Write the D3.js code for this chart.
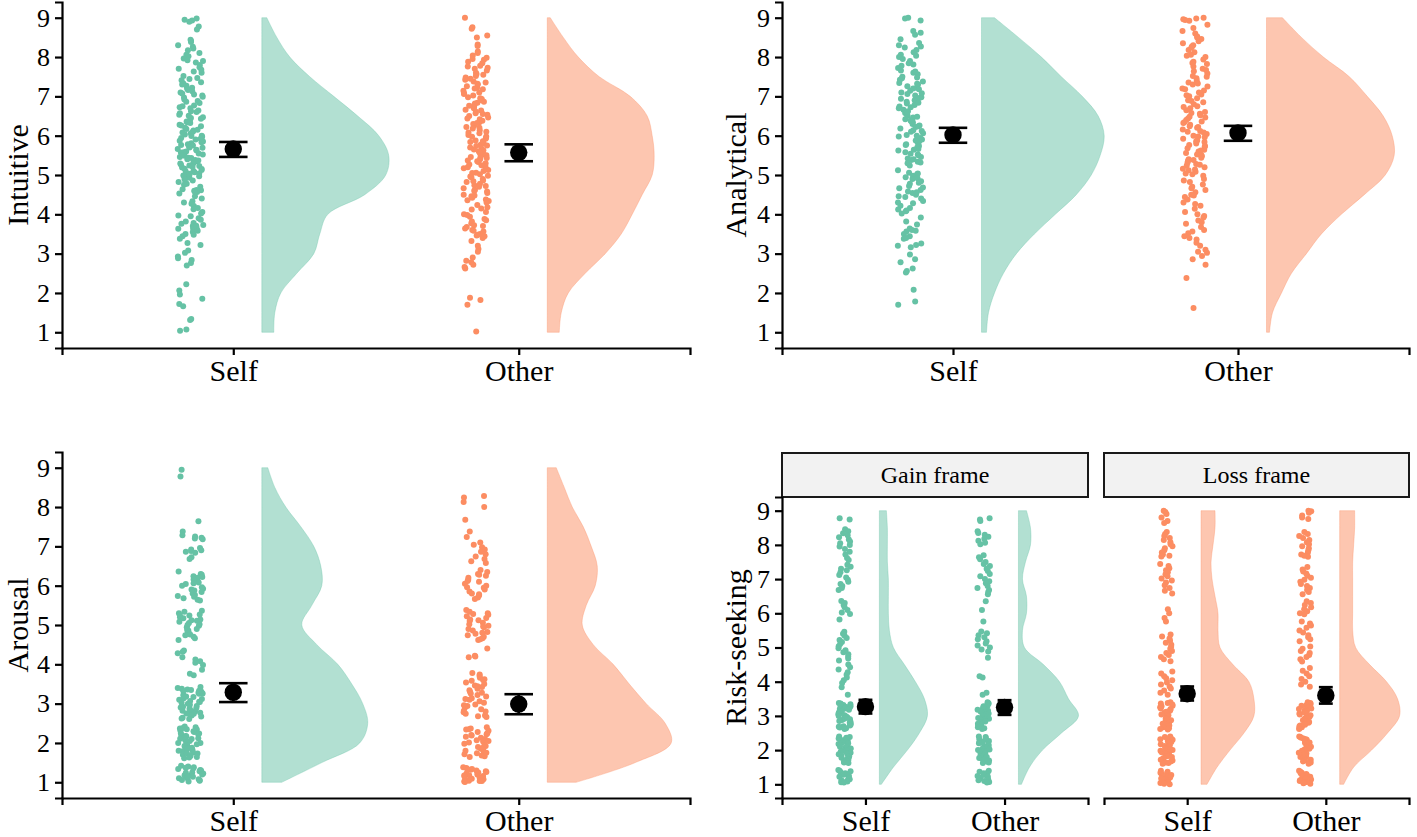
<!DOCTYPE html>
<html><head><meta charset="utf-8">
<script src="https://cdn.jsdelivr.net/npm/d3@7"></script>
<style>body{margin:0;background:#fff}svg{display:block}text{font-family:"Liberation Serif","Times New Roman",serif;fill:#000}</style>
</head><body>
<svg id="c" width="1417" height="837"></svg>
<script>
// ---------- data ----------
const groups = ["Self", "Other"];
const yTicks = [1, 2, 3, 4, 5, 6, 7, 8, 9];
const frames = ["Gain frame", "Loss frame"];
const densLevels = [1,1.5,2,2.5,3,3.5,4,4.5,5,5.5,6,6.5,7,7.5,8,8.5,9];

// Intuitive
const intuSelf = [8.98,8.93,8.9,8.95,8.78,8.7,8.44,8.41,8.38,8.3,8.26,8.22,8.17,8.1,8.06,8.02,7.96,7.9,7.86,7.8,7.74,7.7,7.63,7.6,7.52,7.47,7.41,7.36,7.3,7.27,7.22,7.2,7.16,7.13,7.1,7.05,7.02,6.97,6.92,6.88,6.83,6.77,6.72,6.7,6.64,6.6,6.57,6.51,6.47,6.43,6.4,6.36,6.32,6.28,6.24,6.2,6.17,6.13,6.1,6.06,6.03,6.0,5.97,5.94,5.9,5.87,5.85,5.81,5.78,5.75,5.72,5.7,5.66,5.63,5.6,5.58,5.55,5.52,5.49,5.46,5.43,5.4,5.38,5.35,5.32,5.3,5.27,5.24,5.21,5.19,5.16,5.13,5.1,5.07,5.04,5.01,4.97,4.93,4.9,4.86,4.82,4.78,4.7,4.64,4.61,4.6,4.57,4.53,4.46,4.4,4.33,4.27,4.21,4.13,4.06,4.02,3.97,3.9,3.86,3.82,3.76,3.73,3.7,3.67,3.64,3.6,3.55,3.5,3.44,3.38,3.27,3.22,3.08,3.02,2.93,2.88,2.84,2.76,2.7,2.22,2.06,1.96,1.85,1.72,1.66,1.34,1.31,1.07,1.04,
  7.92,7.68,7.44,7.33,7.07,6.99,6.86,6.75,6.62,6.53,6.45,6.34,6.26,6.15,6.08,5.99,5.92,5.83,5.76,5.69,5.64,5.57,5.51,5.44,5.37,5.29,5.23,5.15,5.09,5.03,4.99,4.88,4.75,4.62,4.58,4.3,4.16,3.95,3.78,3.71,3.63,3.58,3.48];
const intuOther = [9.0,8.76,8.72,8.55,8.5,8.32,8.28,8.14,8.1,8.04,7.98,7.93,7.88,7.84,7.78,7.73,7.7,7.66,7.6,7.57,7.52,7.48,7.42,7.38,7.35,7.3,7.26,7.22,7.18,7.14,7.1,7.06,7.02,6.98,6.93,6.9,6.86,6.82,6.78,6.74,6.7,6.66,6.61,6.57,6.53,6.5,6.46,6.42,6.38,6.34,6.3,6.26,6.22,6.18,6.14,6.1,6.06,6.02,5.98,5.95,5.92,5.88,5.84,5.8,5.77,5.74,5.7,5.67,5.63,5.6,5.56,5.53,5.5,5.46,5.43,5.4,5.37,5.33,5.3,5.27,5.23,5.2,5.17,5.13,5.1,5.06,5.02,4.98,4.94,4.9,4.86,4.82,4.78,4.74,4.7,4.66,4.62,4.58,4.54,4.5,4.46,4.42,4.38,4.34,4.3,4.24,4.18,4.12,4.06,4.0,3.94,3.88,3.82,3.77,3.72,3.68,3.64,3.6,3.56,3.5,3.46,3.4,3.32,3.2,3.12,3.05,2.9,2.82,2.78,2.72,2.66,2.62,1.88,1.82,1.7,1.02,
  7.95,7.76,7.55,7.45,7.32,7.2,7.08,6.95,6.84,6.76,6.64,6.55,6.44,6.32,6.2,6.08,5.97,5.86,5.75,5.65,5.55,5.45,5.35,5.25,5.15,5.05,4.96,4.84,4.72,4.6,4.48,4.36,4.15,3.98,3.85,3.7,3.58,3.48,3.44];
const intuSelfD  = [12,13,19,35,52,58,66,103,124,127,117,96,72,48,28,15,5];
const intuOtherD = [12,14,21,38,58,74,85,95,105,107,105,100,83,52,31,16,3];
const intuMean = [5.66, 5.57], intuLo = [5.46, 5.35], intuHi = [5.84, 5.78];

// Analytical
const analySelf = [9.0,8.98,8.93,8.66,8.62,8.57,8.45,8.36,8.3,8.24,8.18,8.12,8.06,8.0,7.95,7.9,7.84,7.78,7.72,7.66,7.6,7.56,7.5,7.46,7.42,7.38,7.34,7.3,7.26,7.22,7.18,7.14,7.1,7.06,7.02,6.98,6.94,6.9,6.86,6.82,6.78,6.74,6.7,6.66,6.62,6.58,6.54,6.5,6.46,6.42,6.38,6.34,6.3,6.26,6.22,6.18,6.14,6.1,6.06,6.02,5.98,5.94,5.9,5.86,5.82,5.78,5.74,5.7,5.66,5.62,5.58,5.54,5.5,5.46,5.42,5.38,5.34,5.3,5.24,5.12,5.06,5.02,4.98,4.94,4.9,4.84,4.78,4.72,4.66,4.62,4.58,4.54,4.5,4.46,4.4,4.34,4.28,4.22,4.16,4.12,4.08,4.02,3.92,3.82,3.74,3.64,3.6,3.56,3.5,3.44,3.38,3.26,3.2,3.16,2.98,2.86,2.78,2.62,2.56,2.52,2.08,1.78,1.7,
  8.27,8.03,7.81,7.63,7.48,7.32,7.2,7.08,6.96,6.84,6.72,6.6,6.48,6.36,6.24,6.12,6.0,5.88,5.76,5.64,5.52,5.4,5.32,5.04,4.92,4.8,4.68,4.56,4.44,4.3,4.1,3.58,3.4,3.22];
const analyOther = [9.0,8.98,8.96,8.94,8.92,8.82,8.74,8.66,8.6,8.52,8.46,8.4,8.35,8.3,8.24,8.18,8.12,8.06,8.0,7.94,7.88,7.82,7.76,7.7,7.64,7.58,7.52,7.46,7.4,7.35,7.3,7.25,7.2,7.15,7.1,7.05,7.0,6.95,6.9,6.85,6.8,6.75,6.7,6.65,6.6,6.56,6.52,6.48,6.44,6.4,6.36,6.32,6.28,6.24,6.2,6.16,6.12,6.08,6.04,6.0,5.96,5.92,5.88,5.84,5.8,5.76,5.72,5.68,5.64,5.6,5.56,5.52,5.48,5.44,5.4,5.36,5.32,5.28,5.24,5.2,5.16,5.12,5.08,5.04,4.98,4.9,4.82,4.76,4.7,4.62,4.56,4.5,4.44,4.38,4.3,4.22,4.14,4.06,4.0,3.92,3.84,3.76,3.68,3.6,3.52,3.44,3.36,3.28,3.2,3.1,3.02,2.94,2.86,2.72,2.38,1.62,
  8.5,8.27,8.03,7.85,7.67,7.5,7.33,7.18,7.03,6.88,6.73,6.58,6.46,6.34,6.22,6.1,5.98,5.86,5.74,5.62,5.5,5.38,5.26,5.14,5.02,4.86,4.66,4.48,4.26,3.96,3.8,3.56,3.4,3.05];
const analySelfD  = [5,7,13,22,35,53,74,95,110,119,123,117,101,80,60,37,13];
const analyOtherD = [3,6,15,25,40,55,75,98,119,128,126,117,101,83,57,35,16];
const analyMean = [6.02, 6.07], analyLo = [5.82, 5.87], analyHi = [6.2, 6.25];

// Arousal
const arouSelf = [8.95,8.78,7.64,7.38,7.28,7.25,7.22,7.2,7.18,6.96,6.92,6.9,6.88,6.86,6.84,6.72,6.68,6.36,6.3,6.28,6.24,6.2,6.16,6.12,6.08,6.04,6.0,5.96,5.92,5.88,5.84,5.8,5.76,5.72,5.68,5.64,5.62,5.36,5.34,5.3,5.27,5.24,5.2,5.17,5.14,5.11,5.08,5.05,5.02,4.98,4.94,4.9,4.86,4.82,4.78,4.74,4.7,4.66,4.62,4.35,4.32,4.28,4.18,4.12,4.08,4.04,3.98,3.86,3.76,3.72,3.42,3.4,3.38,3.36,3.35,3.32,3.3,3.28,3.26,3.25,3.22,3.2,3.17,3.14,3.12,3.1,3.07,3.04,3.02,3.0,2.97,2.94,2.92,2.9,2.87,2.84,2.82,2.8,2.77,2.74,2.72,2.7,2.67,2.64,2.61,2.42,2.4,2.38,2.37,2.34,2.31,2.3,2.28,2.25,2.22,2.2,2.18,2.17,2.14,2.11,2.1,2.08,2.05,2.02,2.0,1.97,1.94,1.92,1.91,1.88,1.85,1.82,1.8,1.79,1.76,1.73,1.7,1.67,1.64,1.61,1.42,1.4,1.38,1.37,1.34,1.31,1.3,1.28,1.25,1.22,1.2,1.18,1.17,1.14,1.11,1.1,1.08,1.06,1.04,1.02,
  6.22,6.06,5.9,5.74,5.25,5.12,5.0,4.88,4.76,3.33,3.18,3.05,2.88,2.75,2.62,2.35,2.24,2.12,2.0,1.86,1.74,1.63,1.35,1.24,1.15,1.05];
const arouOther = [8.28,8.24,8.13,8.0,7.68,7.38,7.24,7.1,7.04,6.98,6.92,6.86,6.8,6.74,6.68,6.62,6.58,6.4,6.35,6.3,6.25,6.2,6.15,6.1,6.05,6.0,5.95,5.9,5.85,5.8,5.75,5.7,5.66,5.38,5.34,5.3,5.26,5.22,5.18,5.14,5.1,5.06,5.02,4.98,4.94,4.9,4.86,4.82,4.78,4.74,4.7,4.66,4.62,4.4,4.22,4.2,4.18,3.78,3.74,3.7,3.66,3.62,3.58,3.54,3.5,3.46,3.42,3.38,3.34,3.3,3.26,3.22,3.18,3.14,3.1,3.06,3.02,2.98,2.94,2.9,2.86,2.82,2.78,2.74,2.7,2.68,2.66,2.4,2.37,2.34,2.31,2.28,2.25,2.22,2.19,2.16,2.13,2.1,2.07,2.04,2.01,1.98,1.95,1.92,1.89,1.86,1.83,1.8,1.77,1.74,1.71,1.68,1.66,1.64,1.38,1.36,1.34,1.32,1.3,1.28,1.26,1.24,1.22,1.2,1.18,1.16,1.14,1.12,1.1,1.08,1.06,1.05,1.04,1.03,1.02,1.01,
  6.28,6.12,5.96,5.78,5.28,5.12,4.96,4.8,4.64,3.6,3.44,3.28,3.12,2.96,2.8,2.35,2.2,2.05,1.9,1.75,1.33,1.25,1.17,1.09,1.03];
const arouSelfD  = [20,60,98,106,101,90,76,55,40,50,60,59,52,39,24,13,6];
const arouOtherD = [29,88,124,118,99,82,66,46,35,39,48,50,44,36,25,17,9];
const arouMean = [3.29, 2.99], arouLo = [3.04, 2.73], arouHi = [3.52, 3.24];

// Risk-seeking, gain frame
const gainSelf = [8.78,8.74,8.46,8.4,8.34,8.28,8.22,8.16,8.1,8.05,8.0,7.95,7.88,7.8,7.72,7.62,7.56,7.42,7.36,7.3,7.26,7.2,7.12,7.05,6.98,6.92,6.86,6.8,6.74,6.68,6.36,6.3,6.24,6.18,6.1,6.02,5.98,5.82,5.46,5.4,5.34,5.28,5.22,5.16,5.1,5.04,4.98,4.92,4.86,4.8,4.74,4.68,4.62,4.5,4.42,4.36,4.28,4.2,4.12,4.04,3.96,3.84,3.62,3.38,3.36,3.34,3.32,3.3,3.28,3.26,3.24,3.22,3.2,3.18,3.15,3.12,3.1,3.08,3.05,3.02,3.0,2.98,2.95,2.92,2.9,2.88,2.85,2.82,2.8,2.78,2.75,2.72,2.7,2.68,2.66,2.64,2.62,2.4,2.38,2.36,2.34,2.32,2.3,2.28,2.26,2.24,2.22,2.2,2.18,2.15,2.12,2.1,2.08,2.05,2.02,2.0,1.98,1.95,1.92,1.9,1.88,1.85,1.82,1.8,1.78,1.75,1.72,1.7,1.68,1.66,1.64,1.62,1.42,1.4,1.38,1.35,1.32,1.3,1.28,1.25,1.22,1.2,1.18,1.15,1.12,1.1,1.08,1.06,1.05];
const gainOther = [8.78,8.74,8.7,8.4,8.35,8.3,8.24,8.18,8.12,8.06,8.02,7.7,7.64,7.58,7.5,7.44,7.38,7.3,7.24,7.15,7.08,7.0,6.94,6.88,6.8,6.74,6.68,6.62,6.56,6.35,6.1,5.76,5.47,5.42,5.36,5.3,5.24,5.18,5.12,5.06,5.0,4.94,4.88,4.7,4.16,4.12,3.68,3.62,3.4,3.38,3.36,3.33,3.3,3.28,3.25,3.22,3.2,3.18,3.15,3.12,3.1,3.07,3.04,3.02,3.0,2.97,2.94,2.92,2.9,2.87,2.84,2.82,2.8,2.77,2.74,2.72,2.7,2.67,2.64,2.62,2.4,2.38,2.35,2.32,2.3,2.27,2.24,2.22,2.2,2.17,2.14,2.12,2.1,2.07,2.04,2.02,2.0,1.97,1.94,1.92,1.9,1.87,1.84,1.82,1.8,1.77,1.74,1.72,1.7,1.67,1.64,1.62,1.4,1.37,1.34,1.32,1.3,1.27,1.24,1.22,1.2,1.17,1.14,1.12,1.1,1.07,1.05];
const gainSelfD  = [2,14,28,40,48,45,36,25,14,10,9,9,9,8,8,8,7];
const gainOtherD = [3,11,24,43,60,50,41,25,6,4,8,8,4,7,12,12,8];
const gainMean = [3.27, 3.25], gainLo = [3.07, 3.03], gainHi = [3.47, 3.46];

// Risk-seeking, loss frame
const lossSelf = [9.0,8.96,8.9,8.8,8.7,8.64,8.38,8.32,8.26,8.2,8.14,8.08,8.02,7.96,7.9,7.84,7.78,7.72,7.68,7.66,7.44,7.38,7.32,7.26,7.2,7.14,7.08,7.02,6.96,6.9,6.82,6.74,6.66,6.58,6.12,6.0,5.86,5.76,5.38,5.32,5.26,5.2,5.14,5.08,5.02,4.96,4.9,4.84,4.78,4.72,4.66,4.6,4.3,4.24,4.16,4.1,4.04,3.98,3.92,3.86,3.8,3.74,3.68,3.62,3.4,3.38,3.36,3.33,3.3,3.28,3.25,3.22,3.2,3.18,3.15,3.12,3.1,3.07,3.04,3.02,3.0,2.97,2.94,2.92,2.9,2.87,2.84,2.82,2.8,2.77,2.74,2.72,2.7,2.67,2.64,2.62,2.6,2.4,2.38,2.36,2.34,2.32,2.3,2.27,2.24,2.22,2.2,2.17,2.14,2.12,2.1,2.07,2.04,2.02,2.0,1.98,1.96,1.94,1.92,1.9,1.87,1.84,1.82,1.8,1.77,1.74,1.72,1.7,1.67,1.64,1.62,1.6,1.4,1.37,1.34,1.32,1.3,1.27,1.24,1.22,1.2,1.17,1.14,1.12,1.1,1.07,1.05,1.04,1.02,1.0];
const lossOther = [9.0,8.98,8.94,8.86,8.8,8.76,8.38,8.32,8.26,8.2,8.14,8.08,8.02,7.96,7.9,7.84,7.78,7.72,7.68,7.65,7.35,7.28,7.22,7.16,7.1,7.04,6.98,6.92,6.86,6.8,6.74,6.68,6.62,6.56,6.35,6.3,6.24,6.18,6.12,6.06,6.0,5.97,5.76,5.7,5.64,5.58,5.5,5.44,5.36,5.3,5.24,5.18,5.03,4.96,4.9,4.84,4.78,4.72,4.66,4.59,4.4,4.32,4.24,4.16,4.08,4.0,3.92,3.85,3.4,3.38,3.35,3.32,3.3,3.27,3.24,3.22,3.2,3.17,3.14,3.12,3.1,3.07,3.04,3.02,3.0,2.97,2.94,2.92,2.9,2.87,2.84,2.82,2.8,2.77,2.74,2.72,2.7,2.67,2.64,2.62,2.4,2.38,2.36,2.34,2.32,2.3,2.27,2.24,2.22,2.2,2.17,2.14,2.12,2.1,2.07,2.04,2.02,2.0,1.98,1.96,1.94,1.92,1.9,1.87,1.84,1.82,1.8,1.77,1.74,1.72,1.7,1.67,1.64,1.62,1.6,1.4,1.37,1.34,1.32,1.3,1.27,1.24,1.22,1.2,1.17,1.14,1.12,1.1,1.07,1.05,1.03,1.02];
const lossSelfD  = [6,16,29,43,53,53,48,32,19,17,17,14,11,10,12,14,14];
const lossOtherD = [4,14,32,48,60,58,47,30,16,13,13,13,13,13,14,15,15];
const lossMean = [3.65, 3.6], lossLo = [3.45, 3.36], lossHi = [3.86, 3.84];

// ---------- drawing ----------
const teal = "#66c2a5", orange = "#fc8d62";
const FONT = '"Liberation Serif","Times New Roman",serif';
const svg = d3.select("#c");

const panels = [
  {title:"Intuitive",  L:62,  R:690,  T:2,   B:348, tx:28,  dMax:128, dW:0.448,
   series:[{p:intuSelf,d:intuSelfD,c:teal},{p:intuOther,d:intuOtherD,c:orange}], m:intuMean, lo:intuLo, hi:intuHi, yAxis:true},
  {title:"Analytical", L:782, R:1409, T:2,   B:348, tx:746, dMax:128, dW:0.448,
   series:[{p:analySelf,d:analySelfD,c:teal},{p:analyOther,d:analyOtherD,c:orange}], m:analyMean, lo:analyLo, hi:analyHi, yAxis:true},
  {title:"Arousal",    L:62,  R:690,  T:452, B:798, tx:28,  dMax:128, dW:0.448,
   series:[{p:arouSelf,d:arouSelfD,c:teal},{p:arouOther,d:arouOtherD,c:orange}], m:arouMean, lo:arouLo, hi:arouHi, yAxis:true},
  {title:"Risk-seeking", strip:frames[0], L:782, R:1088, T:497, B:798, tx:746, dMax:62, dW:0.446,
   series:[{p:gainSelf,d:gainSelfD,c:teal},{p:gainOther,d:gainOtherD,c:teal}], m:gainMean, lo:gainLo, hi:gainHi, yAxis:true},
  {title:null, strip:frames[1], L:1104, R:1409, T:497, B:798, dMax:62, dW:0.446,
   series:[{p:lossSelf,d:lossSelfD,c:orange},{p:lossOther,d:lossOtherD,c:orange}], m:lossMean, lo:lossLo, hi:lossHi, yAxis:false}
];

// deterministic horizontal jitter (position only, not data)
const jit = (i, k) => { const s = Math.sin((i + 1) * 12.9898 + (k + 1) * 78.233) * 43758.5453; return (s - Math.floor(s) - 0.5) * 0.09; };

panels.forEach((P, pi) => {
  const x = d3.scaleLinear().domain([0.4, 2.6]).range([P.L, P.R]);
  const y = d3.scaleLinear().domain([0.6, 9.4]).range([P.B, P.T]);
  const w = d3.scaleLinear().domain([0, P.dMax]).range([0, P.dW]);
  const g = svg.append("g");

  if (P.strip) {
    g.append("rect").attr("x", P.L).attr("y", 453).attr("width", P.R - P.L).attr("height", 44)
      .attr("fill", "#f2f2f2").attr("stroke", "#1a1a1a").attr("stroke-width", 2);
    g.append("text").attr("x", (P.L + P.R) / 2).attr("y", 475).attr("dy", "0.35em")
      .attr("text-anchor", "middle").attr("font-size", 24).attr("font-family", FONT).text(P.strip);
  }

  P.series.forEach((S, k) => {
    const cat = k + 1;
    const dd = densLevels.map((v, j) => ({v, d: S.d[j]}));
    const area = d3.area()
      .y(e => y(e.v))
      .x0(() => x(cat + 0.1))
      .x1(e => x(cat + 0.1 + w(e.d)))
      .curve(d3.curveCatmullRom.alpha(0.5));
    g.append("path").datum(dd).attr("d", area)
      .attr("fill", S.c).attr("fill-opacity", 0.5)
      .attr("stroke", S.c).attr("stroke-opacity", 0.35).attr("stroke-width", 1);

    g.append("g").selectAll("circle").data(S.p).join("circle")
      .attr("cx", (v, i) => x(cat - 0.15 + jit(i, pi * 2 + k)))
      .attr("cy", v => y(v))
      .attr("r", 3)
      .attr("fill", S.c);

    const cx = x(cat);
    const hw = x(cat + 0.05) - x(cat);
    const eb = g.append("g").attr("stroke", "#000").attr("stroke-width", 2.6);
    eb.append("line").attr("x1", cx).attr("x2", cx).attr("y1", y(P.lo[k])).attr("y2", y(P.hi[k]));
    eb.append("line").attr("x1", cx - hw).attr("x2", cx + hw).attr("y1", y(P.lo[k])).attr("y2", y(P.lo[k]));
    eb.append("line").attr("x1", cx - hw).attr("x2", cx + hw).attr("y1", y(P.hi[k])).attr("y2", y(P.hi[k]));
    g.append("circle").attr("cx", cx).attr("cy", y(P.m[k])).attr("r", 8.7).attr("fill", "#000");
  });

  const xa = g.append("g").attr("transform", `translate(0,${P.B})`)
    .call(d3.axisBottom(x).tickValues([1, 2]).tickFormat(i => groups[i - 1]).tickSizeOuter(0).tickSize(7).tickPadding(5));
  xa.selectAll("text").attr("font-size", 30).attr("font-family", FONT).attr("fill", "#000");
  xa.selectAll("path,line").attr("stroke", "#000").attr("stroke-width", 2.2);

  if (P.yAxis) {
    const ya = g.append("g").attr("transform", `translate(${P.L},0)`)
      .call(d3.axisLeft(y).tickValues(yTicks).tickFormat(d3.format("d")).tickSizeOuter(0).tickSize(7).tickPadding(5));
    ya.selectAll("text").attr("font-size", 26).attr("font-family", FONT).attr("fill", "#000");
    ya.selectAll("path,line").attr("stroke", "#000").attr("stroke-width", 2.2);
    g.append("text")
      .attr("transform", `translate(${P.tx},${(P.T + P.B) / 2}) rotate(-90)`)
      .attr("text-anchor", "middle").attr("font-size", 30).attr("font-family", FONT)
      .text(P.title);
  }
});
</script>
</body></html>
